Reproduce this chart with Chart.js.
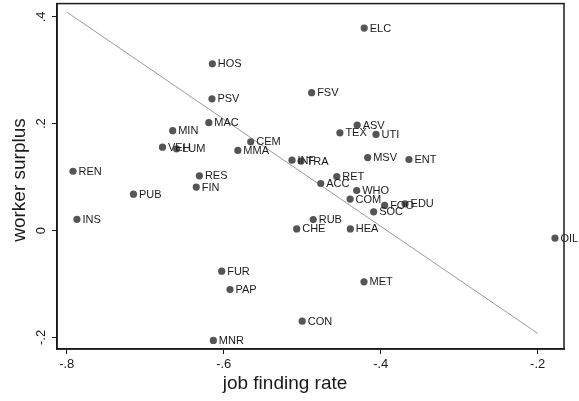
<!DOCTYPE html>
<html>
<head>
<meta charset="utf-8">
<script src="https://cdn.jsdelivr.net/npm/chart.js@4.4.1/dist/chart.umd.min.js"></script>
<style>
html,body{margin:0;padding:0;background:#fff;}
#wrap{width:579px;height:401px;}
</style>
</head>
<body>
<div id="wrap"><canvas id="c" width="579" height="401"></canvas></div>
<script>
const industries = ["ELC","HOS","FSV","PSV","ASV","MAC","TEX","UTI","MIN","CEM","VEH","LUM","MMA","MSV","ENT","INF","TRA","REN","RES","RET","ACC","FIN","WHO","PUB","COM","EDU","FOO","SOC","INS","RUB","CHE","HEA","OIL","FUR","MET","PAP","CON","MNR"];
const jobFindingRate = [-0.421,-0.6145,-0.488,-0.615,-0.430,-0.619,-0.452,-0.406,-0.665,-0.5656,-0.678,-0.660,-0.582,-0.4166,-0.364,-0.513,-0.5015,-0.792,-0.631,-0.456,-0.4764,-0.635,-0.4306,-0.715,-0.439,-0.369,-0.395,-0.409,-0.787,-0.486,-0.507,-0.4387,-0.178,-0.6026,-0.4213,-0.592,-0.500,-0.6132];
const workerSurplus = [0.379,0.312,0.258,0.2465,0.1975,0.202,0.183,0.180,0.187,0.166,0.156,0.153,0.150,0.1366,0.133,0.1317,0.130,0.111,0.1025,0.101,0.088,0.0814,0.075,0.068,0.059,0.050,0.047,0.035,0.021,0.0205,0.003,0.003,-0.014,-0.076,-0.096,-0.1105,-0.1696,-0.2056];
const fitX = [-0.8, -0.2];
const fitY = [0.409, -0.1925];
const xTicks = [-0.8, -0.6, -0.4, -0.2];
const yTicks = [-0.2, 0, 0.2, 0.4];
const xTitle = "job finding rate";
const yTitle = "worker surplus";

const FONT = "'Liberation Sans', Arial, Helvetica, sans-serif";
function fmt(v){
  if (Math.abs(v) < 1e-9) return "0";
  let s = String(Math.round(v*10)/10);
  return s.replace(/^(-?)0\./, "$1.");
}

const scatterData = industries.map((n,i)=>({x:jobFindingRate[i], y:workerSurplus[i]}));
const fitData = fitX.map((x,i)=>({x:x, y:fitY[i]}));

const decor = {
  id:'decor',
  afterDatasetsDraw(chart){
    const ctx = chart.ctx;
    const meta = chart.getDatasetMeta(1);
    ctx.save();
    ctx.font = "11px " + FONT;
    ctx.fillStyle = "#1a1a1a";
    ctx.textAlign = "left";
    ctx.textBaseline = "middle";
    meta.data.forEach((el,i)=>{
      ctx.fillText(industries[i], el.x + 5.5, el.y + 0.5);
    });
    ctx.restore();
  },
  afterDraw(chart){
    const ctx = chart.ctx;
    const ca = chart.chartArea;
    const ys = chart.scales.y;
    ctx.save();
    ctx.strokeStyle = "#1a1a1a";
    ctx.lineWidth = 1.5;
    ctx.strokeRect(ca.left, ca.top, ca.right - ca.left, ca.bottom - ca.top);
    ctx.fillStyle = "#1a1a1a";
    ctx.font = "13px " + FONT;
    ctx.textAlign = "center";
    ctx.textBaseline = "middle";
    ys.ticks.forEach(t=>{
      const py = ys.getPixelForValue(t.value);
      ctx.save();
      ctx.translate(41, py);
      ctx.rotate(-Math.PI/2);
      ctx.fillText(fmt(t.value), 0, 0);
      ctx.restore();
    });
    ctx.font = "19px " + FONT;
    ctx.fillText(xTitle, 285, 384);
    ctx.save();
    ctx.translate(20, 180);
    ctx.rotate(-Math.PI/2);
    ctx.fillText(yTitle, 0, 0);
    ctx.restore();
    ctx.restore();
  }
};

new Chart(document.getElementById('c'), {
  type:'scatter',
  data:{
    datasets:[
      {type:'line', data:fitData, borderColor:'#9a9a9a', borderWidth:1, pointRadius:0, fill:false, order:2},
      {data:scatterData, backgroundColor:'#555555', borderColor:'#555555', pointRadius:3.6, pointHoverRadius:3.6, borderWidth:0, order:1}
    ]
  },
  options:{
    responsive:false,
    animation:false,
    devicePixelRatio:1,
    events:[],
    layout:{padding:{left:0,right:15,top:2,bottom:0}},
    plugins:{legend:{display:false}, tooltip:{enabled:false}},
    scales:{
      x:{
        type:'linear', min:-0.8124, max:-0.1665,
        afterBuildTicks(s){ s.ticks = xTicks.map(v=>({value:v})); },
        afterFit(s){ s.height = 52; },
        grid:{drawOnChartArea:false, drawTicks:true, tickLength:5, color:'#1a1a1a', lineWidth:1},
        border:{display:true, color:'#1a1a1a', width:1.5},
        ticks:{font:{family:FONT, size:13}, color:'#1a1a1a', padding:3, maxRotation:0, minRotation:0, callback:(v)=>fmt(v)}
      },
      y:{
        type:'linear', min:-0.2217, max:0.4248,
        afterBuildTicks(s){ s.ticks = yTicks.map(v=>({value:v})); },
        afterFit(s){ s.width = 57; },
        grid:{drawOnChartArea:false, drawTicks:true, tickLength:5, color:'#1a1a1a', lineWidth:1},
        border:{display:true, color:'#1a1a1a', width:1.5},
        ticks:{display:false}
      }
    }
  },
  plugins:[decor]
});
</script>
</body>
</html>
